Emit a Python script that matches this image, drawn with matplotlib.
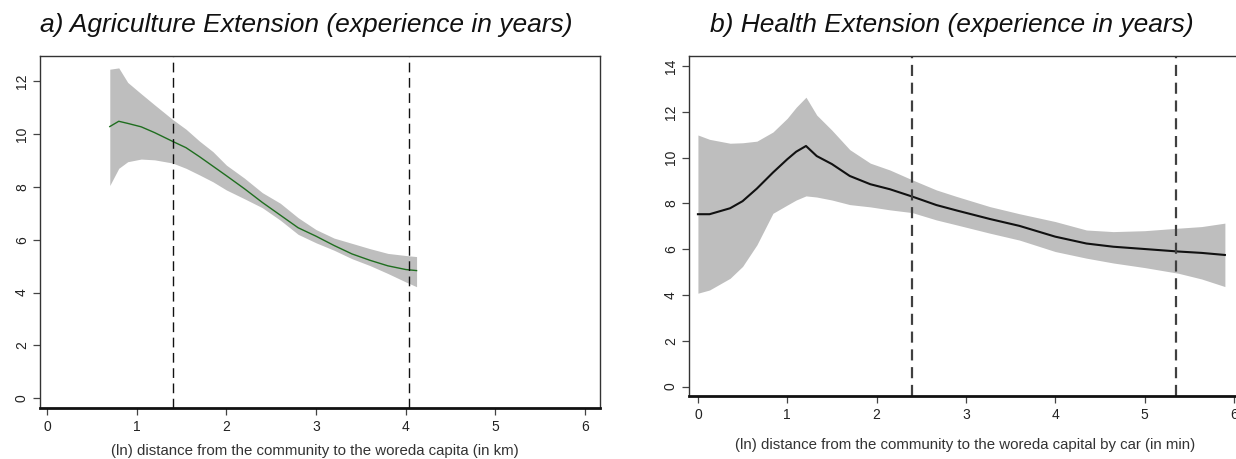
import matplotlib
matplotlib.use("Agg")
import matplotlib.pyplot as plt

# ---- data: panel a (agriculture extension) ----
agri_x = [0.70, 0.80, 0.90, 1.05, 1.20, 1.40, 1.55, 1.70, 1.85, 2.00, 2.20,
          2.40, 2.60, 2.80, 3.00, 3.20, 3.40, 3.60, 3.80, 4.00, 4.12]
agri_fit = [10.28, 10.48, 10.40, 10.27, 10.05, 9.72, 9.48, 9.14, 8.78, 8.42, 7.93,
            7.41, 6.93, 6.45, 6.13, 5.78, 5.46, 5.22, 5.01, 4.87, 4.83]
agri_hi = [12.45, 12.50, 11.95, 11.52, 11.10, 10.55, 10.18, 9.73, 9.33, 8.82, 8.33,
           7.78, 7.38, 6.83, 6.38, 6.06, 5.86, 5.66, 5.48, 5.40, 5.36]
agri_lo = [8.05, 8.70, 8.95, 9.05, 9.02, 8.90, 8.70, 8.45, 8.19, 7.88, 7.55,
           7.21, 6.74, 6.20, 5.88, 5.60, 5.28, 5.02, 4.72, 4.40, 4.22]
agri_vlines = [1.41, 4.04]

# ---- data: panel b (health extension) ----
health_x = [0.00, 0.13, 0.36, 0.50, 0.66, 0.84, 1.00, 1.10, 1.21, 1.33, 1.50, 1.70,
            1.93, 2.15, 2.40, 2.67, 2.90, 3.27, 3.60, 4.00, 4.35, 4.65, 5.00, 5.38,
            5.64, 5.90]
health_fit = [7.53, 7.53, 7.79, 8.10, 8.65, 9.35, 9.93, 10.26, 10.51, 10.07, 9.72, 9.20,
              8.84, 8.62, 8.30, 7.93, 7.69, 7.32, 7.02, 6.55, 6.25, 6.11, 6.01, 5.90,
              5.84, 5.75]
health_hi = [10.99, 10.80, 10.63, 10.65, 10.72, 11.12, 11.72, 12.20, 12.64, 11.86, 11.20, 10.35,
             9.76, 9.46, 9.03, 8.59, 8.30, 7.86, 7.55, 7.21, 6.84, 6.77, 6.81, 6.92,
             6.99, 7.14]
health_lo = [4.08, 4.22, 4.73, 5.25, 6.19, 7.57, 7.93, 8.15, 8.33, 8.28, 8.15, 7.95,
             7.85, 7.72, 7.60, 7.28, 7.06, 6.70, 6.40, 5.90, 5.61, 5.40, 5.20, 4.95,
             4.70, 4.37]
health_vlines = [2.40, 5.35]

agri_yticks = [0, 2, 4, 6, 8, 10, 12]
health_yticks = [0, 2, 4, 6, 8, 10, 12, 14]
xticks = [0, 1, 2, 3, 4, 5, 6]

title_a = "a) Agriculture Extension (experience in years)"
title_b = "b) Health Extension (experience in years)"
xlabel_a = "(ln) distance from the community to the woreda capita (in km)"
xlabel_b = "(ln) distance from the community to the woreda capital by car (in min)"

plt.rcParams['font.family'] = ['Liberation Sans', 'DejaVu Sans']

W, H = 1236, 459
fig = plt.figure(figsize=(W / 100, H / 100), dpi=100)

def px_axes(l, r, t, b):
    return [l / W, (H - b) / H, (r - l) / W, (b - t) / H]

band_col = '#bebebe'
spine_col = '#333333'

def style(ax, yticks, xlim, ylim):
    ax.set_xlim(*xlim)
    ax.set_ylim(*ylim)
    ax.set_xticks(xticks)
    ax.set_yticks(yticks)
    ax.tick_params(axis='both', direction='out', length=5, width=0.9,
                   colors='#444444', labelsize=10, labelcolor='#222222')
    ax.tick_params(axis='y', pad=3)
    for lab in ax.get_yticklabels():
        lab.set_rotation(90)
        lab.set_va('center')
    for s in ax.spines.values():
        s.set_color(spine_col)
        s.set_linewidth(1.0)
    ax.spines['bottom'].set_linewidth(2.0)
    ax.spines['bottom'].set_color('#111111')

# Panel a
ax1 = fig.add_axes(px_axes(40, 600, 56, 408))
ax1.fill_between(agri_x, agri_lo, agri_hi, color=band_col, lw=0)
ax1.plot(agri_x, agri_fit, color='#1f6e1f', lw=1.0)
for v in agri_vlines:
    ax1.axvline(v, color='#111111', lw=1.0, ls=(0, (7, 4)))
style(ax1, agri_yticks, (-0.078, 6.165), (-0.37, 12.95))

# Panel b (extends past the right edge, as in the reference)
ax2 = fig.add_axes(px_axes(689, 1249, 56, 396))
ax2.fill_between(health_x, health_lo, health_hi, color=band_col, lw=0)
ax2.plot(health_x, health_fit, color='#111111', lw=1.5)
for v in health_vlines:
    ax2.axvline(v, color='#404040', lw=1.6, ls=(0, (5, 3)))
style(ax2, health_yticks, (-0.10, 6.17), (-0.41, 14.44))

fig.text(306 / W, 1 - 25 / H, title_a, fontsize=19, style='italic',
         ha='center', va='center', color='#111111')
fig.text(952 / W, 1 - 25 / H, title_b, fontsize=19, style='italic',
         ha='center', va='center', color='#111111')
fig.text(315 / W, 1 - 451 / H, xlabel_a, fontsize=10.8, ha='center', va='center',
         color='#333333')
fig.text(965 / W, 1 - 445 / H, xlabel_b, fontsize=10.8, ha='center', va='center',
         color='#333333')

fig.savefig('out.png', dpi=100)
